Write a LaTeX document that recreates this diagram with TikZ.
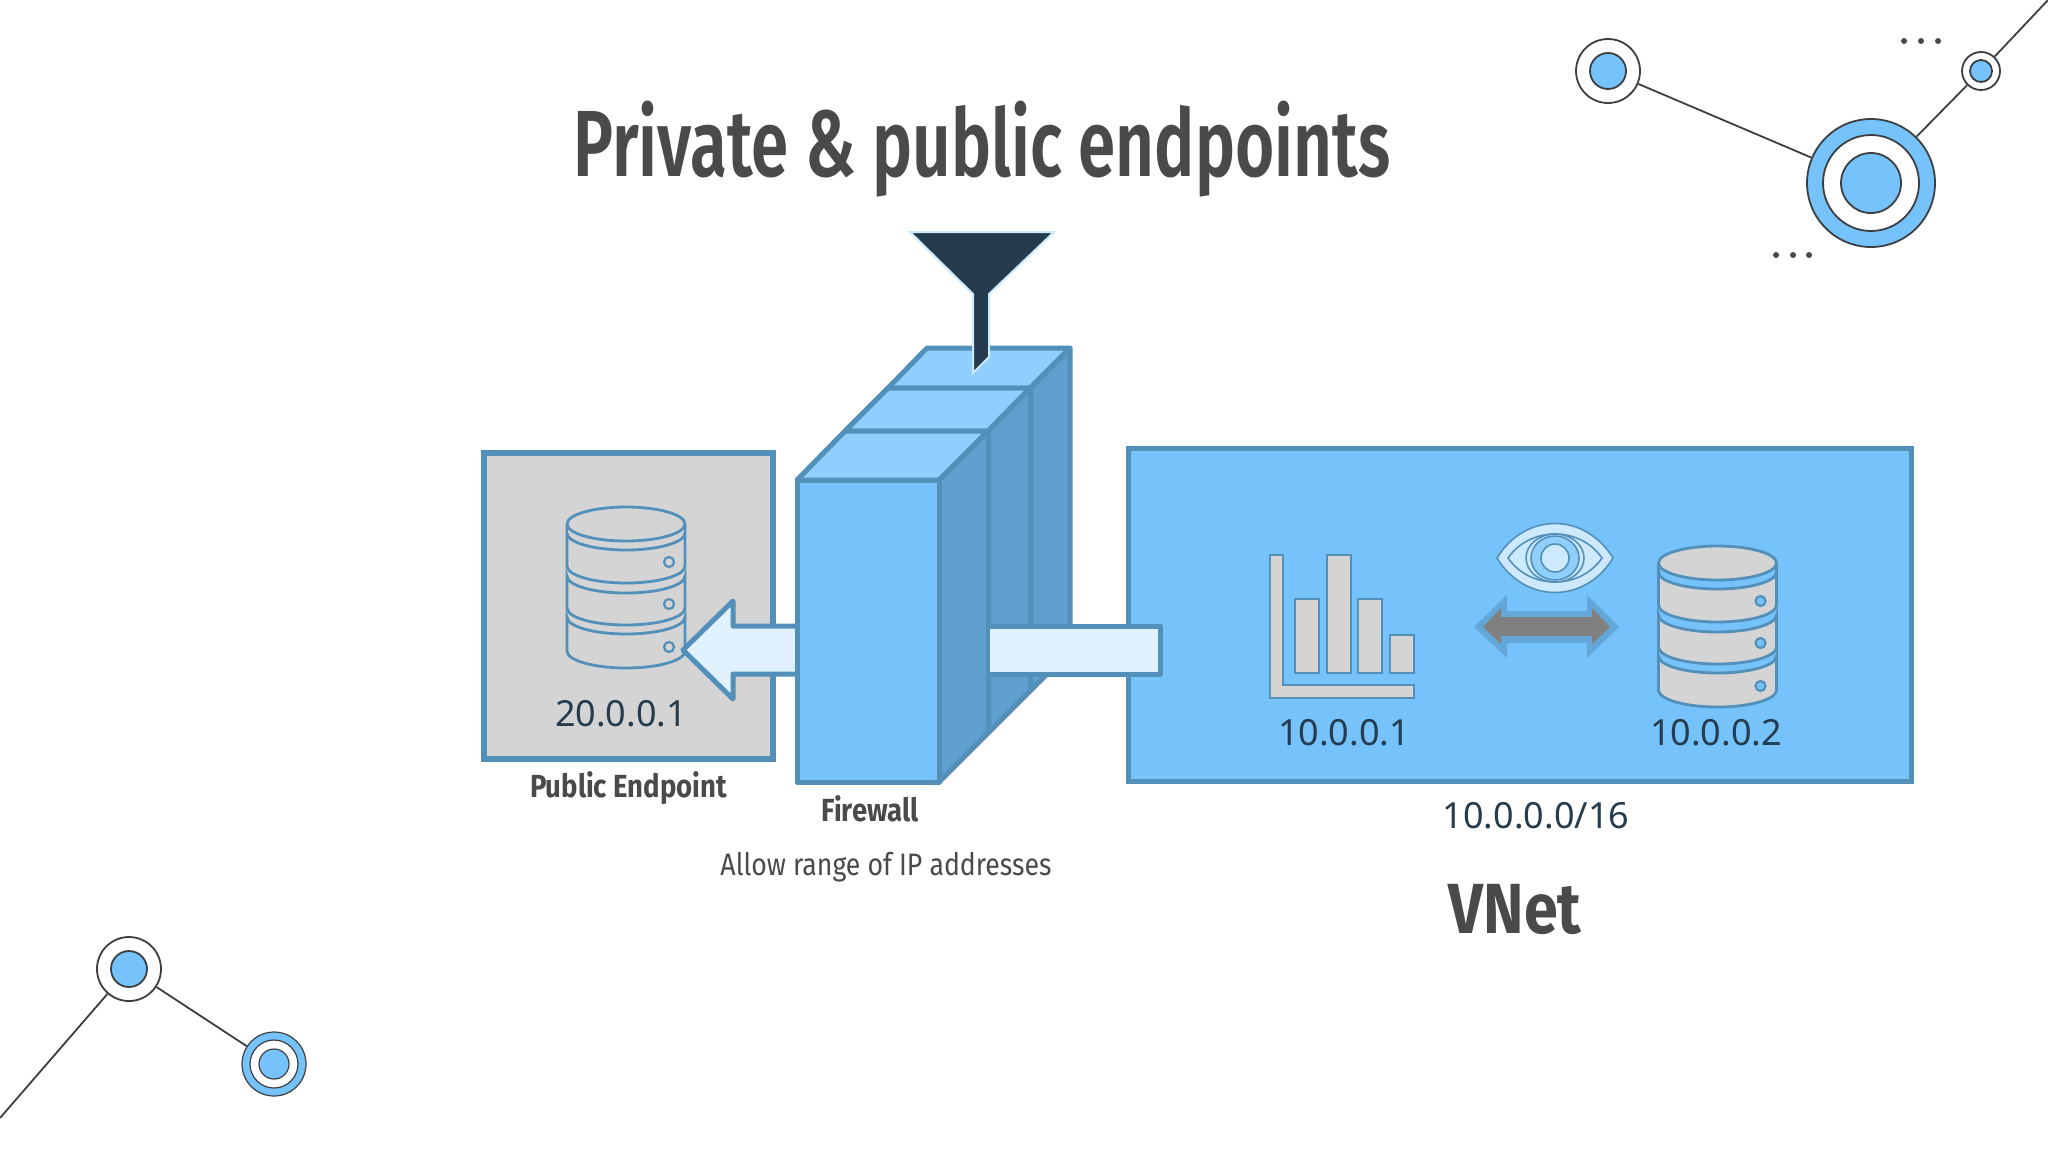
\documentclass[tikz,border=0pt]{standalone}
\usepackage{fontspec}
\setmainfont{Fira Sans}
\newfontfamily\titlefont[FakeStretch=0.716]{Fira Sans SemiBold}
\newfontfamily\capfont[FakeStretch=0.86]{Fira Sans}
\newfontfamily\ipfont{Noto Sans}
\usetikzlibrary{positioning}
\definecolor{skyfill}{HTML}{76C3FB}
\definecolor{topfill}{HTML}{90CFFD}
\definecolor{sidefill}{HTML}{5F9FCE}
\definecolor{edgeblue}{HTML}{5290B9}
\definecolor{palefill}{HTML}{E1F2FE}
\definecolor{diskgrey}{HTML}{D4D4D4}
\definecolor{inkdark}{HTML}{243C4E}
\definecolor{inkgrey}{HTML}{4A4A4A}
\definecolor{ringline}{HTML}{3C3F42}
\definecolor{eyefill}{HTML}{CDE9FE}
\tikzset{
  x = 0.5pt,
  y = -0.5pt,
  % framed boxes
  panel/.style = {
    draw = edgeblue,
    line width = 2.6pt,
    inner sep = 0
  },
  face/.style = {
    draw = edgeblue,
    line width = 2.5pt,
    line join = round
  },
  blockarrow/.style = {
    draw = edgeblue,
    fill = palefill,
    line width = 2.5pt,
    line join = round
  },
  % texts
  iplabel/.style = {
    font = \ipfont\fontsize{18}{20}\selectfont,
    text = inkdark,
    inner sep = 0
  },
  caption/.style = {
    font = \capfont\bfseries\fontsize{16}{18}\selectfont,
    text = inkgrey,
    inner sep = 0
  },
  % decoration rings
  ring/.style = {
    circle,
    draw = ringline,
    line width = 0.9pt,
    inner sep = 0,
    minimum size = #1
  },
  dotmark/.style = {
    circle,
    fill = inkgrey,
    inner sep = 0,
    minimum size = 3pt
  },
  trace/.style = {
    draw = ringline,
    line width = 0.9pt
  },
  band colour/.store in = \dbband,
  band colour = diskgrey,
  % disk stack, origin in the middle of the top ellipse
  database/.pic = {
    \begin{scope}[draw = edgeblue, line width = 1.4pt]
      \path[fill = \dbband] (-59,0) -- (-59,127)
        arc[start angle = 180, end angle = 0, x radius = 59, y radius = 17]
        -- (59,0) -- cycle;
      \draw[fill = diskgrey] (-59,9) arc[start angle = 180, end angle = 0, x radius = 59, y radius = 17]
        -- (59,42) arc[start angle = 0, end angle = 180, x radius = 59, y radius = 17] -- cycle;
      \draw[fill = diskgrey] (-59,52) arc[start angle = 180, end angle = 0, x radius = 59, y radius = 17]
        -- (59,84) arc[start angle = 0, end angle = 180, x radius = 59, y radius = 17] -- cycle;
      \draw[fill = diskgrey] (-59,93) arc[start angle = 180, end angle = 0, x radius = 59, y radius = 17]
        -- (59,127) arc[start angle = 0, end angle = 180, x radius = 59, y radius = 17] -- cycle;
      \draw (-59,0) -- (-59,9) (59,9) -- (59,0);
      \draw[fill = diskgrey] (0,0) ellipse[x radius = 59, y radius = 17];
      \foreach \ydot in {38,80,123} {
        \draw[line width = 1.1pt, fill = \dbband] (43,\ydot) circle[radius = 5];
      }
    \end{scope}
  },
  eye/.pic = {
    \begin{scope}[draw = edgeblue, line width = 0.8pt, fill = eyefill]
      \filldraw (-58,0) .. controls (-30,-46) and (30,-46) .. (58,0)
        .. controls (30,46) and (-30,46) .. (-58,0) -- cycle;
      \filldraw (-47,0) .. controls (-25,-32) and (25,-32) .. (47,0)
        .. controls (25,32) and (-25,32) .. (-47,0) -- cycle;
      \draw (0,0) ellipse[x radius = 29, y radius = 24];
      \draw[fill = skyfill!70!eyefill] (0,0) ellipse[x radius = 24, y radius = 22];
      \draw[fill = eyefill] (0,0) circle[radius = 14];
    \end{scope}
  }
}
\begin{document}
\begin{tikzpicture}
  \useasboundingbox[fill = white] (0,0) rectangle (2048,1152);

  \node[font = \titlefont\fontsize{47}{54}\selectfont, text = inkgrey, inner sep = 0] (title) at (982,149) {Private \& public endpoints};

  % public side
  \node[panel, fill = diskgrey, minimum width = 144.5pt, minimum height = 153pt] (public) at (628.5,606) {};
  \pic at (626,524) {database};
  \node[iplabel] (pubip) at (621,714) {20.0.0.1};
  \node[caption] (publbl) [below=5pt of public] {Public Endpoint};

  % vnet
  \node[panel, fill = skyfill, minimum width = 391.5pt, minimum height = 166.5pt] (vnet) at (1520,615) {};
  \node[iplabel] (ipa) at (1344,733) {10.0.0.1};
  \node[iplabel] (ipb) at (1716,733) {10.0.0.2};
  \node[iplabel] (range) at (1536,816) {10.0.0.0/16};
  \node[font = \capfont\bfseries\fontsize{35.5}{40}\selectfont, text = inkgrey, inner sep = 0] (vnetlbl) at (1515,909) {VNet};

  % bar chart
  \begin{scope}[draw = edgeblue, fill = diskgrey, line width = 1.2pt]
    \filldraw (1270,555) -- (1283,555) -- (1283,685) -- (1414,685) -- (1414,698) -- (1270,698) -- cycle;
    \filldraw (1295,599) rectangle (1319,673);
    \filldraw (1327,555) rectangle (1351,673);
    \filldraw (1358,599) rectangle (1382,673);
    \filldraw (1390,635) rectangle (1414,673);
  \end{scope}

  % peering arrow
  \fill[edgeblue!55!skyfill] (1474,627) -- (1507,595) -- (1507,611) -- (1587,611) -- (1587,595) -- (1619,627)
    -- (1587,658) -- (1587,643) -- (1507,643) -- (1507,658) -- cycle;
  \fill[black!50] (1483,627) -- (1501,608) -- (1501,617) -- (1592,617) -- (1592,608) -- (1610,627)
    -- (1592,644) -- (1592,636) -- (1501,636) -- (1501,644) -- cycle;
  \pic at (1555,558) {eye};
  \pic[band colour = skyfill] at (1717.5,563) {database};

  % firewall slabs
  \filldraw[face, fill = sidefill] (939,480) -- (1070,348) -- (1070,651) -- (939,782) -- cycle;
  \draw[face] (1030,388) -- (1030,691);
  \draw[face] (988,431) -- (988,733);
  \filldraw[face, fill = topfill] (927,348) -- (1070,348) -- (1030,388) -- (888,388) -- cycle;
  \filldraw[face, fill = topfill] (888,388) -- (1030,388) -- (988,431) -- (845,431) -- cycle;
  \filldraw[face, fill = topfill] (845,431) -- (988,431) -- (939,480) -- (797,480) -- cycle;

  % traffic through the firewall
  \fill[palefill] (990,626) rectangle (1160,674);
  \draw[blockarrow, fill = none] (990,626) -- (1160,626) -- (1160,674) -- (990,674);
  \filldraw[blockarrow] (797,626) -- (733,626) -- (733,601) -- (683,650) -- (733,699) -- (733,674) -- (797,674);

  \filldraw[face, fill = skyfill] (797,480) rectangle (939,782);

  % funnel
  \filldraw[draw = eyefill, fill = inkdark, line width = 1pt] (910,232) -- (1054,232) -- (989,294) -- (989,357) -- (973,373) -- (973,294) -- cycle;

  \node[caption] (fwlbl) at (870,809) {Firewall};
  \node[font = \capfont\fontsize{15.5}{18}\selectfont, text = inkgrey, inner sep = 0] (allow) at (886,867) {Allow range of IP addresses};

  % top right decoration
  \node[ring = 32pt, fill = white] (ringa) at (1608,71) {};
  \node[ring = 18pt, fill = skyfill] at (ringa) {};
  \node[ring = 64pt, fill = skyfill] (ringb) at (1871,183) {};
  \node[ring = 48pt, fill = white] at (ringb) {};
  \node[ring = 30pt, fill = skyfill] at (ringb) {};
  \node[ring = 19pt, fill = white] (ringc) at (1981,71) {};
  \node[ring = 11pt, fill = skyfill] at (ringc) {};
  \coordinate (topend) at (2048,0);
  \draw[trace] (ringa) -- (ringb);
  \draw[trace] (ringb) -- (ringc);
  \draw[trace] (ringc) -- (topend);
  \foreach \xdot in {1904,1921,1938} {
    \node[dotmark] at (\xdot,41) {};
  }
  \foreach \xdot in {1776,1793,1809} {
    \node[dotmark] at (\xdot,255) {};
  }

  % bottom left decoration
  \node[ring = 32pt, fill = white] (ringd) at (129,969) {};
  \node[ring = 18pt, fill = skyfill] at (ringd) {};
  \node[ring = 32pt, line width = 0.6pt, fill = skyfill] (ringe) at (274,1064) {};
  \node[ring = 24pt, line width = 0.6pt, fill = white] at (ringe) {};
  \node[ring = 15pt, line width = 0.6pt, fill = skyfill] at (ringe) {};
  \coordinate (lowend) at (0,1118);
  \draw[trace] (lowend) -- (ringd);
  \draw[trace] (ringd) -- (ringe);
\end{tikzpicture}
\end{document}
